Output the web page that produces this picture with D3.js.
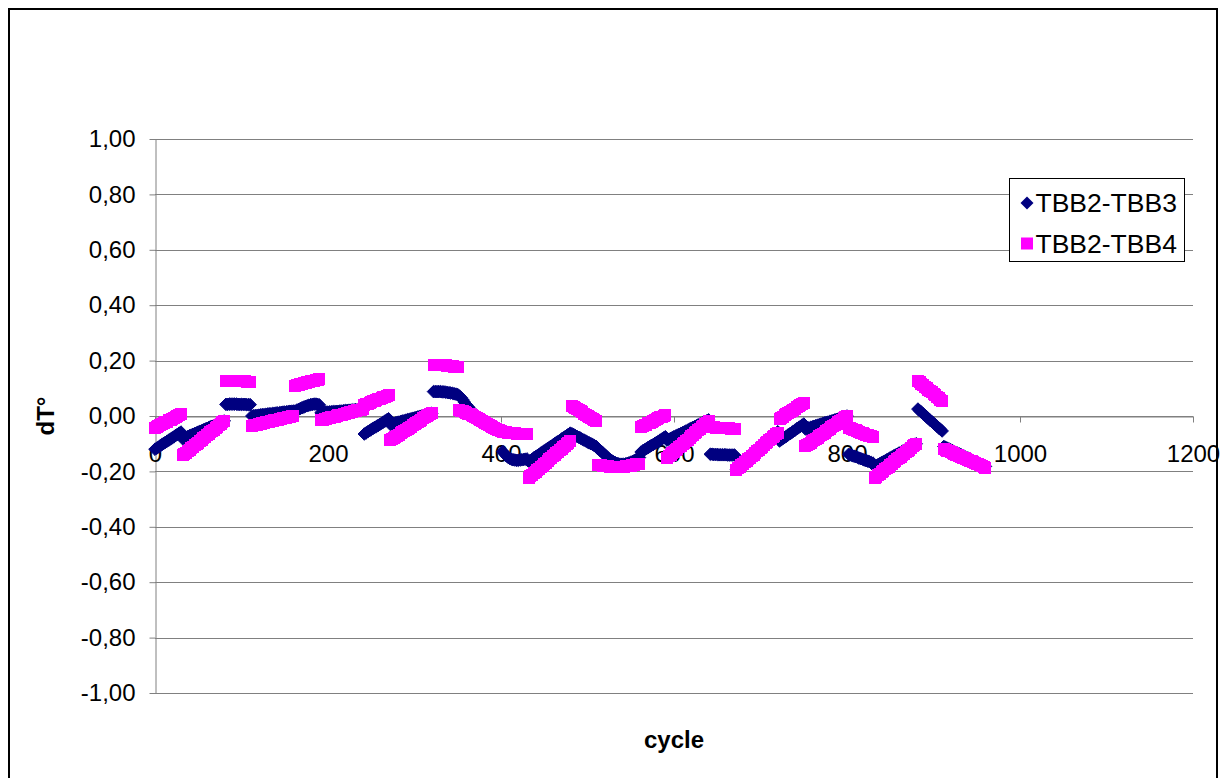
<!DOCTYPE html>
<html>
<head>
<meta charset="utf-8">
<script src="https://cdn.jsdelivr.net/npm/d3@7"></script>
<style>
  html, body { margin: 0; padding: 0; background: #fff; }
  svg { display: block; font-family: Arial, "Liberation Sans", sans-serif; }
</style>
</head>
<body>
<svg id="chart" width="1226" height="778"></svg>
<script>
// Temperature differences between the TBB2 probe and probes TBB3 / TBB4,
// logged every 2 cycles (0 ... 960), one row of values per measurement run.
const seriesNames = ["TBB2-TBB3", "TBB2-TBB4"];
const yTicks = [-1, -0.8, -0.6, -0.4, -0.2, 0, 0.2, 0.4, 0.6, 0.8, 1];
const xTicks = [0, 200, 400, 600, 800, 1000, 1200];
const cycles = d3.range(0, 961, 2);

const tbb3 = [
  -0.120, -0.116, -0.112, -0.108, -0.103, -0.099, -0.095, -0.091, -0.087, -0.083, -0.079, -0.075, -0.070, -0.066, -0.062, -0.058,
  -0.082, -0.079, -0.077, -0.074, -0.071, -0.069, -0.066, -0.063, -0.061, -0.058, -0.055, -0.053, -0.050, -0.047, -0.045, -0.042, -0.039, -0.037, -0.034, -0.031, -0.029, -0.026, -0.023, -0.021, -0.018,
  0.042, 0.042, 0.043, 0.043, 0.043, 0.043, 0.043, 0.042, 0.042, 0.042, 0.042, 0.042, 0.041, 0.041, 0.041,
  0.000, 0.001, 0.002, 0.002, 0.003, 0.004, 0.005, 0.005, 0.006, 0.007, 0.008, 0.008, 0.009, 0.010, 0.011, 0.011, 0.012, 0.013, 0.014, 0.014, 0.015, 0.016, 0.017, 0.017, 0.018,
  0.018, 0.021, 0.024, 0.027, 0.030, 0.032, 0.035, 0.037, 0.039, 0.041, 0.042, 0.043, 0.043, 0.042, 0.040,
  0.012, 0.013, 0.013, 0.014, 0.014, 0.015, 0.015, 0.016, 0.016, 0.017, 0.017, 0.018, 0.018, 0.019, 0.020, 0.020, 0.021, 0.021, 0.022, 0.022, 0.023, 0.023, 0.024, 0.024, 0.025,
  -0.065, -0.061, -0.057, -0.053, -0.049, -0.045, -0.041, -0.038, -0.034, -0.030, -0.026, -0.022, -0.018, -0.014, -0.010,
  -0.030, -0.028, -0.027, -0.025, -0.023, -0.022, -0.020, -0.018, -0.017, -0.015, -0.013, -0.012, -0.010, -0.008, -0.007, -0.005, -0.003, -0.002, 0.000, 0.002, 0.003, 0.005, 0.007, 0.008, 0.010,
  0.088, 0.088, 0.088, 0.088, 0.088, 0.087, 0.087, 0.086, 0.085, 0.084, 0.083, 0.082, 0.080, 0.079, 0.077,
  0.072, 0.066, 0.058, 0.049, 0.040, 0.033, 0.026, 0.018, 0.012, 0.005, -0.001, -0.007, -0.012, -0.016, -0.020, -0.024, -0.028, -0.032, -0.036, -0.040, -0.043, -0.046, -0.050, -0.053, -0.056,
  -0.128, -0.136, -0.143, -0.149, -0.153, -0.156, -0.158, -0.159, -0.160, -0.160, -0.159, -0.158, -0.157, -0.156, -0.155,
  -0.164, -0.160, -0.156, -0.151, -0.147, -0.143, -0.139, -0.134, -0.130, -0.126, -0.122, -0.117, -0.113, -0.109, -0.105, -0.100, -0.096, -0.092, -0.088, -0.083, -0.079, -0.075, -0.071, -0.066, -0.062,
  -0.064, -0.067, -0.071, -0.074, -0.077, -0.080, -0.084, -0.087, -0.090, -0.094, -0.097, -0.100, -0.103, -0.107, -0.110,
  -0.118, -0.123, -0.128, -0.134, -0.140, -0.146, -0.152, -0.157, -0.161, -0.165, -0.168, -0.171, -0.173, -0.174, -0.174, -0.174, -0.173, -0.171, -0.169, -0.167, -0.164, -0.161, -0.158, -0.154, -0.150,
  -0.130, -0.126, -0.122, -0.118, -0.114, -0.110, -0.106, -0.103, -0.099, -0.095, -0.091, -0.087, -0.083, -0.079, -0.075,
  -0.087, -0.084, -0.081, -0.078, -0.075, -0.072, -0.069, -0.066, -0.063, -0.060, -0.057, -0.054, -0.051, -0.047, -0.044, -0.041, -0.038, -0.035, -0.032, -0.029, -0.026, -0.023, -0.020, -0.017, -0.014,
  -0.138, -0.138, -0.139, -0.139, -0.139, -0.140, -0.140, -0.140, -0.140, -0.140, -0.141, -0.141, -0.141, -0.141, -0.141,
  -0.192, -0.186, -0.181, -0.175, -0.170, -0.164, -0.158, -0.153, -0.147, -0.141, -0.136, -0.130, -0.125, -0.119, -0.113, -0.108, -0.102, -0.097, -0.091, -0.085, -0.080, -0.074, -0.069, -0.063, -0.057,
  -0.090, -0.086, -0.081, -0.077, -0.073, -0.068, -0.064, -0.060, -0.055, -0.051, -0.046, -0.042, -0.038, -0.033, -0.029,
  -0.047, -0.045, -0.043, -0.041, -0.039, -0.037, -0.035, -0.033, -0.031, -0.029, -0.027, -0.025, -0.023, -0.022, -0.020, -0.018, -0.016, -0.014, -0.012, -0.010, -0.008, -0.006, -0.004, -0.002, 0.000,
  -0.138, -0.140, -0.143, -0.145, -0.147, -0.149, -0.152, -0.154, -0.156, -0.159, -0.161, -0.163, -0.165, -0.168, -0.170,
  -0.182, -0.179, -0.175, -0.172, -0.168, -0.165, -0.162, -0.158, -0.155, -0.151, -0.148, -0.144, -0.141, -0.138, -0.134, -0.131, -0.127, -0.124, -0.120, -0.117, -0.114, -0.110, -0.107, -0.103, -0.100,
  0.025, 0.019, 0.014, 0.008, 0.002, -0.003, -0.009, -0.015, -0.020, -0.026, -0.031, -0.037, -0.043, -0.048, -0.054,
  -0.110, -0.113, -0.116, -0.119, -0.122, -0.125, -0.128, -0.131, -0.134, -0.137, -0.140, -0.143, -0.146, -0.149, -0.152, -0.155, -0.158, -0.161, -0.164, -0.167, -0.170, -0.173, -0.176, -0.179, -0.182
];

const tbb4 = [
  -0.043, -0.040, -0.036, -0.033, -0.030, -0.026, -0.023, -0.020, -0.016, -0.013, -0.010, -0.006, -0.003, 0.000, 0.004, 0.007,
  -0.142, -0.137, -0.132, -0.127, -0.121, -0.116, -0.111, -0.106, -0.101, -0.096, -0.090, -0.085, -0.080, -0.075, -0.070, -0.065, -0.059, -0.054, -0.049, -0.044, -0.039, -0.034, -0.028, -0.023, -0.018,
  0.125, 0.125, 0.126, 0.126, 0.126, 0.126, 0.126, 0.125, 0.125, 0.125, 0.125, 0.125, 0.124, 0.124, 0.124,
  -0.035, -0.034, -0.032, -0.031, -0.029, -0.028, -0.026, -0.025, -0.023, -0.022, -0.020, -0.019, -0.018, -0.016, -0.015, -0.013, -0.012, -0.010, -0.009, -0.007, -0.006, -0.004, -0.003, -0.001, 0.000,
  0.110, 0.112, 0.113, 0.115, 0.117, 0.118, 0.120, 0.122, 0.123, 0.125, 0.126, 0.128, 0.130, 0.131, 0.133,
  -0.015, -0.013, -0.012, -0.010, -0.008, -0.007, -0.005, -0.003, -0.002, 0.000, 0.002, 0.003, 0.005, 0.007, 0.008, 0.010, 0.012, 0.013, 0.015, 0.017, 0.018, 0.020, 0.022, 0.023, 0.025,
  0.040, 0.043, 0.045, 0.048, 0.050, 0.053, 0.055, 0.058, 0.060, 0.063, 0.065, 0.068, 0.070, 0.073, 0.075,
  -0.087, -0.083, -0.079, -0.075, -0.071, -0.067, -0.062, -0.058, -0.054, -0.050, -0.046, -0.042, -0.038, -0.034, -0.030, -0.026, -0.022, -0.018, -0.014, -0.009, -0.005, -0.001, 0.003, 0.007, 0.011,
  0.185, 0.185, 0.185, 0.184, 0.184, 0.184, 0.183, 0.183, 0.182, 0.181, 0.180, 0.179, 0.178, 0.177, 0.176,
  0.021, 0.019, 0.017, 0.015, 0.012, 0.009, 0.006, 0.003, -0.001, -0.004, -0.007, -0.010, -0.014, -0.017, -0.020, -0.024, -0.028, -0.032, -0.036, -0.040, -0.043, -0.046, -0.049, -0.052, -0.054,
  -0.056, -0.058, -0.059, -0.060, -0.061, -0.062, -0.063, -0.063, -0.064, -0.064, -0.065, -0.065, -0.065, -0.065, -0.065,
  -0.224, -0.218, -0.213, -0.207, -0.202, -0.196, -0.190, -0.185, -0.179, -0.174, -0.168, -0.163, -0.157, -0.151, -0.146, -0.140, -0.135, -0.129, -0.123, -0.118, -0.112, -0.107, -0.101, -0.096, -0.090,
  0.036, 0.032, 0.028, 0.024, 0.021, 0.017, 0.013, 0.009, 0.005, 0.001, -0.003, -0.006, -0.010, -0.014, -0.018,
  -0.176, -0.177, -0.178, -0.179, -0.180, -0.181, -0.182, -0.183, -0.184, -0.185, -0.185, -0.185, -0.185, -0.185, -0.184, -0.183, -0.182, -0.181, -0.180, -0.179, -0.178, -0.177, -0.175, -0.174, -0.173,
  -0.040, -0.037, -0.034, -0.031, -0.027, -0.024, -0.021, -0.018, -0.015, -0.012, -0.009, -0.005, -0.002, 0.001, 0.004,
  -0.152, -0.146, -0.141, -0.135, -0.130, -0.124, -0.118, -0.113, -0.107, -0.102, -0.096, -0.091, -0.085, -0.079, -0.074, -0.068, -0.063, -0.057, -0.051, -0.046, -0.040, -0.035, -0.029, -0.024, -0.018,
  -0.040, -0.041, -0.041, -0.042, -0.042, -0.043, -0.043, -0.044, -0.044, -0.045, -0.045, -0.045, -0.046, -0.046, -0.046,
  -0.195, -0.189, -0.184, -0.178, -0.173, -0.167, -0.161, -0.156, -0.150, -0.144, -0.139, -0.133, -0.128, -0.122, -0.116, -0.111, -0.105, -0.099, -0.094, -0.088, -0.083, -0.077, -0.071, -0.066, -0.060,
  -0.010, -0.006, -0.002, 0.002, 0.006, 0.010, 0.014, 0.019, 0.023, 0.027, 0.031, 0.035, 0.039, 0.043, 0.047,
  -0.110, -0.105, -0.101, -0.096, -0.092, -0.087, -0.082, -0.078, -0.073, -0.069, -0.064, -0.060, -0.055, -0.050, -0.046, -0.041, -0.037, -0.032, -0.028, -0.023, -0.018, -0.014, -0.009, -0.005, 0.000,
  -0.043, -0.045, -0.048, -0.050, -0.052, -0.055, -0.057, -0.060, -0.062, -0.064, -0.067, -0.069, -0.071, -0.074, -0.076,
  -0.224, -0.219, -0.214, -0.209, -0.203, -0.198, -0.193, -0.188, -0.183, -0.178, -0.172, -0.167, -0.162, -0.157, -0.152, -0.147, -0.141, -0.136, -0.131, -0.126, -0.121, -0.116, -0.110, -0.105, -0.100,
  0.126, 0.121, 0.116, 0.111, 0.105, 0.100, 0.095, 0.090, 0.085, 0.080, 0.075, 0.069, 0.064, 0.059, 0.054,
  -0.120, -0.123, -0.126, -0.128, -0.131, -0.134, -0.137, -0.139, -0.142, -0.145, -0.148, -0.150, -0.153, -0.156, -0.159, -0.161, -0.164, -0.167, -0.170, -0.172, -0.175, -0.178, -0.181, -0.183, -0.186
];

const colors = ["#000080", "#FF00FF"];
const diamondPath = "M0,-6.3L6.3,0L0,6.3L-6.3,0Z";
const squarePath = "M-6,-6H6V6H-6Z";

const svg = d3.select("#chart");
const plot = { left: 155, right: 1193, top: 139, bottom: 693 };

const x = d3.scaleLinear().domain([0, 1200]).range([plot.left, plot.right]);
const y = d3.scaleLinear().domain([-1, 1]).range([plot.bottom, plot.top]);

const fmt = d => (d < 0 ? "-" : "") + Math.abs(d).toFixed(2).replace(".", ",");

// outer chart frame
svg.append("rect")
  .attr("x", 9).attr("y", 9).attr("width", 1208).attr("height", 790)
  .attr("fill", "none").attr("stroke", "#000").attr("stroke-width", 2);

// horizontal gridlines
svg.append("g")
  .selectAll("line")
  .data(yTicks)
  .join("line")
  .attr("x1", plot.left).attr("x2", plot.right)
  .attr("y1", d => Math.round(y(d)) + 0.5)
  .attr("y2", d => Math.round(y(d)) + 0.5)
  .attr("stroke", "#808080").attr("stroke-width", 1);

// value axis
const yAxis = svg.append("g")
  .attr("transform", `translate(${plot.left + 0.5},0)`)
  .call(d3.axisLeft(y).tickValues(yTicks).tickFormat(fmt).tickSize(6).tickSizeOuter(0).tickPadding(14));
yAxis.select(".domain").attr("stroke", "#808080");
yAxis.selectAll(".tick line").attr("stroke", "#808080");
yAxis.selectAll("text").attr("font-size", 24).attr("fill", "#000").attr("font-family", "Arial, 'Liberation Sans', sans-serif");

// category axis crossing at zero
const xAxis = svg.append("g")
  .attr("transform", `translate(0,${Math.round(y(0)) + 0.5})`)
  .call(d3.axisBottom(x).tickValues(xTicks).tickFormat(d3.format("d")).tickSize(6).tickSizeOuter(0).tickPadding(22));
xAxis.select(".domain").attr("stroke", "#808080");
xAxis.selectAll(".tick line").attr("stroke", "#808080");
xAxis.selectAll("text").attr("font-size", 24).attr("fill", "#000").attr("font-family", "Arial, 'Liberation Sans', sans-serif");

// data markers (TBB3 first, TBB4 drawn over it)
const allSeries = [tbb3, tbb4];
const shapes = [diamondPath, squarePath];
allSeries.forEach((vals, i) => {
  if (vals.length !== cycles.length) console.warn(seriesNames[i], vals.length, cycles.length);
  svg.append("g")
    .attr("class", "series-" + i)
    .selectAll("path")
    .data(cycles.map((c, k) => [c, vals[k]]).filter(d => d[1] !== undefined))
    .join("path")
    .attr("d", shapes[i])
    .attr("transform", d => `translate(${x(d[0])},${y(d[1])})`)
    .attr("fill", colors[i])
    .attr("stroke", i === 0 ? colors[i] : "none")
    .attr("stroke-width", 1)
    .attr("shape-rendering", i === 1 ? "crispEdges" : "auto");
});

// axis titles
svg.append("text")
  .attr("x", (plot.left + plot.right) / 2).attr("y", 748)
  .attr("text-anchor", "middle")
  .attr("font-size", 24).attr("font-weight", "bold")
  .text("cycle");

svg.append("text")
  .attr("transform", `translate(54,${y(0)}) rotate(-90)`)
  .attr("text-anchor", "middle")
  .attr("font-size", 24).attr("font-weight", "bold")
  .text("dT°");

// legend
const legend = svg.append("g").attr("transform", "translate(1009.5,178.5)");
legend.append("rect")
  .attr("width", 175).attr("height", 83)
  .attr("fill", "#fff").attr("stroke", "#000").attr("stroke-width", 1);
seriesNames.forEach((name, i) => {
  const row = legend.append("g").attr("transform", `translate(0,${i === 0 ? 24.5 : 65})`);
  row.append("path")
    .attr("d", i === 0 ? "M0,-6.5L6.5,0L0,6.5L-6.5,0Z" : "M-6,-6H6V6H-6Z")
    .attr("transform", "translate(17.5,0)")
    .attr("fill", colors[i]);
  row.append("text")
    .attr("x", 26).attr("y", 0).attr("dy", "0.35em")
    .attr("font-size", 26.5)
    .text(name);
});
</script>
</body>
</html>
